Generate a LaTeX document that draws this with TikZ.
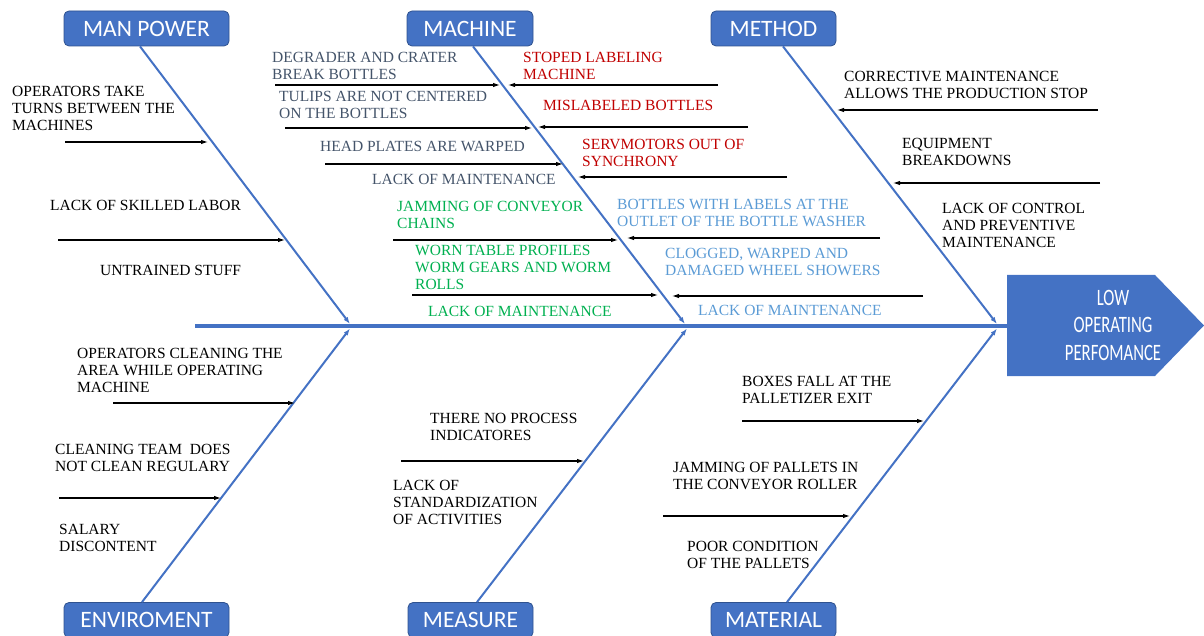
\documentclass[tikz,border=0pt]{standalone}
\usepackage{fontspec}
\setmainfont{Liberation Serif}
\newfontfamily\boxfont{Carlito}
\usetikzlibrary{arrows.meta}
\definecolor{fishblue}{HTML}{4472C4}
\definecolor{boxedge}{HTML}{2F528F}
\definecolor{slate}{HTML}{44546A}
\definecolor{causered}{HTML}{C00000}
\definecolor{causegreen}{HTML}{00B050}
\definecolor{causesky}{HTML}{5B9BD5}
\newcommand{\hsq}[1]{\scalebox{0.71}[1]{#1}}
\begin{document}
\begin{tikzpicture}[x=1pt,y=-1pt,
  category/.style={draw=boxedge, line width=0.8pt, fill=fishblue, rounded corners=5pt,
    text=white, font=\boxfont\fontsize{23.5}{27}\selectfont, minimum height=35pt, inner sep=0pt},
  cause/.style={anchor=west, inner sep=0pt, align=left, font=\fontsize{15.5}{17}\selectfont},
  bone/.style={fishblue, line width=2pt, -{Latex[length=7pt,width=5pt]}},
  spine/.style={fishblue, line width=3.5pt},
  arrowline/.style={black, line width=1.1pt, -{Latex[length=7pt,width=4.5pt]}},
  headtext/.style={text=white, align=center, inner sep=0pt, font=\boxfont\fontsize{23.5}{27.5}\selectfont},
]
\useasboundingbox (0,0) rectangle (1204,636);

% effect head and spine
\fill[fishblue] (1007,275) -- (1155,275) -- (1204,325.5) -- (1155,376) -- (1007,376) -- cycle;
\node[headtext] (effect) at (1113,325) {\hsq{LOW}\\\hsq{OPERATING}\\\hsq{PERFOMANCE}};
\coordinate (spineStart) at (195,326);
\coordinate (effectIn) at (1007,326);
\draw[spine] (spineStart) -- (effectIn);

% category boxes
\node[category, minimum width=165pt] (mp) at (146.5,28.5) {MAN POWER};
\node[category, minimum width=126pt] (mc) at (470,28.5) {MACHINE};
\node[category, minimum width=125pt] (me) at (773.5,28.5) {METHOD};
\node[category, minimum width=165pt] (en) at (146.5,620) {ENVIROMENT};
\node[category, minimum width=125pt] (ms) at (470.5,620) {MEASURE};
\node[category, minimum width=125pt] (ma) at (773.5,620) {MATERIAL};

% bones
\coordinate (mpEnd) at (350,324);
\coordinate (mcEnd) at (685,324);
\coordinate (meEnd) at (997,324);
\coordinate (enEnd) at (350,328.5);
\coordinate (msEnd) at (687,328.5);
\coordinate (maEnd) at (997,328.5);
\draw[bone] ([xshift=-6.5pt]mp.south) -- (mpEnd);
\draw[bone] ([xshift=3pt]mc.south) -- (mcEnd);
\draw[bone] ([xshift=9.5pt]me.south) -- (meEnd);
\draw[bone] ([xshift=-4.5pt]en.north) -- (enEnd);
\draw[bone] ([xshift=6.5pt]ms.north) -- (msEnd);
\draw[bone] ([xshift=13.5pt]ma.north) -- (maEnd);

% man power causes
\node[cause] (mp1) at (12,108) {OPERATORS TAKE\\TURNS BETWEEN THE\\MACHINES};
\node[cause] (mp2) at (50,205) {LACK OF SKILLED LABOR};
\node[cause] (mp3) at (100,270) {UNTRAINED STUFF};
\coordinate (a1s) at (65,142);  \coordinate (a1e) at (208,142);
\coordinate (a2s) at (58,240);  \coordinate (a2e) at (285,240);
\draw[arrowline] (a1s) -- (a1e);
\draw[arrowline] (a2s) -- (a2e);

% machine causes, left side
\node[cause, text=slate] (mc1) at (272,66) {DEGRADER AND CRATER\\BREAK BOTTLES};
\node[cause, text=slate] (mc2) at (279,105) {TULIPS ARE NOT CENTERED\\ON THE BOTTLES};
\node[cause, text=slate] (mc3) at (320,146) {HEAD PLATES ARE WARPED};
\node[cause, text=slate] (mc4) at (372,179) {LACK OF MAINTENANCE};
\node[cause, text=causegreen] (mc5) at (397,214.5) {JAMMING OF CONVEYOR\\CHAINS};
\node[cause, text=causegreen] (mc6) at (415,267) {WORN TABLE PROFILES\\WORM GEARS AND WORM\\ROLLS};
\node[cause, text=causegreen] (mc7) at (428,311) {LACK OF MAINTENANCE};
\coordinate (b1s) at (275,85);  \coordinate (b1e) at (500,85);
\coordinate (b2s) at (285,128); \coordinate (b2e) at (532,128);
\coordinate (b3s) at (325,164); \coordinate (b3e) at (563,164);
\coordinate (b4s) at (393,240); \coordinate (b4e) at (618,240);
\coordinate (b5s) at (412,295); \coordinate (b5e) at (658,295);
\draw[arrowline] (b1s) -- (b1e);
\draw[arrowline] (b2s) -- (b2e);
\draw[arrowline] (b3s) -- (b3e);
\draw[arrowline] (b4s) -- (b4e);
\draw[arrowline] (b5s) -- (b5e);

% machine causes, right side
\node[cause, text=causered] (mc8) at (523,66) {STOPED LABELING\\MACHINE};
\node[cause, text=causered] (mc9) at (543,105) {MISLABELED BOTTLES};
\node[cause, text=causered] (mc10) at (582,152.5) {SERVMOTORS OUT OF\\SYNCHRONY};
\node[cause, text=causesky] (mc11) at (617,213) {BOTTLES WITH LABELS AT THE\\OUTLET OF THE BOTTLE WASHER};
\node[cause, text=causesky] (mc12) at (665,262) {CLOGGED, WARPED AND\\DAMAGED WHEEL SHOWERS};
\node[cause, text=causesky] (mc13) at (698,310) {LACK OF MAINTENANCE};
\coordinate (c1s) at (718,85);  \coordinate (c1e) at (508,85);
\coordinate (c2s) at (748,127); \coordinate (c2e) at (538,127);
\coordinate (c3s) at (787,177); \coordinate (c3e) at (578,177);
\coordinate (c4s) at (880,238); \coordinate (c4e) at (627,238);
\coordinate (c5s) at (923,296); \coordinate (c5e) at (672,296);
\draw[arrowline] (c1s) -- (c1e);
\draw[arrowline] (c2s) -- (c2e);
\draw[arrowline] (c3s) -- (c3e);
\draw[arrowline] (c4s) -- (c4e);
\draw[arrowline] (c5s) -- (c5e);

% method causes
\node[cause] (me1) at (844,84.5) {CORRECTIVE MAINTENANCE\\ALLOWS THE PRODUCTION STOP};
\node[cause] (me2) at (902,151.5) {EQUIPMENT\\BREAKDOWNS};
\node[cause] (me3) at (942,225.5) {LACK OF CONTROL\\AND PREVENTIVE\\MAINTENANCE};
\coordinate (d1s) at (1098,110); \coordinate (d1e) at (837,110);
\coordinate (d2s) at (1100,183); \coordinate (d2e) at (893,183);
\draw[arrowline] (d1s) -- (d1e);
\draw[arrowline] (d2s) -- (d2e);

% environment causes
\node[cause] (en1) at (77,370.5) {OPERATORS CLEANING THE\\AREA WHILE OPERATING\\MACHINE};
\node[cause] (en2) at (55,457.5) {CLEANING TEAM\ \ DOES\\NOT CLEAN REGULARY};
\node[cause] (en3) at (59,537.5) {SALARY\\DISCONTENT};
\coordinate (e1s) at (113,403); \coordinate (e1e) at (295,403);
\coordinate (e2s) at (59,498);  \coordinate (e2e) at (221,498);
\draw[arrowline] (e1s) -- (e1e);
\draw[arrowline] (e2s) -- (e2e);

% measure causes
\node[cause] (ms1) at (430,426.5) {THERE NO PROCESS\\INDICATORES};
\node[cause] (ms2) at (393,502) {LACK OF\\STANDARDIZATION\\OF ACTIVITIES};
\coordinate (f1s) at (401,461); \coordinate (f1e) at (584,461);
\draw[arrowline] (f1s) -- (f1e);

% material causes
\node[cause] (ma1) at (742,389.5) {BOXES FALL AT THE\\PALLETIZER EXIT};
\node[cause] (ma2) at (673,475.5) {JAMMING OF PALLETS IN\\THE CONVEYOR ROLLER};
\node[cause] (ma3) at (687,555) {POOR CONDITION\\OF THE PALLETS};
\coordinate (g1s) at (742,421); \coordinate (g1e) at (924,421);
\coordinate (g2s) at (663,516); \coordinate (g2e) at (850,516);
\draw[arrowline] (g1s) -- (g1e);
\draw[arrowline] (g2s) -- (g2e);
\end{tikzpicture}
\end{document}
